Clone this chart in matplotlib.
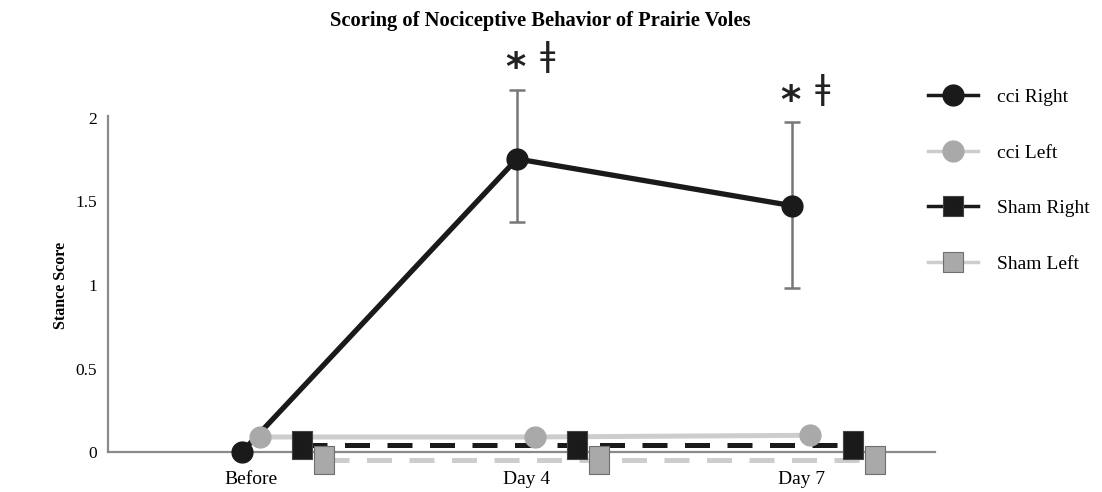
import matplotlib.pyplot as plt
from matplotlib.lines import Line2D
import numpy as np

# ---------------------------------------------------------------------
# Data
# ---------------------------------------------------------------------
days = ["Before", "Day 4", "Day 7"]

cci_right = [0.0, 1.755, 1.475]
cci_right_err_low = [0.0, 0.38, 0.49]
cci_right_err_high = [0.0, 0.415, 0.50]
cci_left = [0.09, 0.09, 0.10]
sham_right = [0.04, 0.04, 0.04]
sham_left = [-0.05, -0.05, -0.05]

sig_labels = ["", "*", "*"]
sig_labels2 = ["", "\u01c2", "\u01c2"]

# ---------------------------------------------------------------------
# Styling
# ---------------------------------------------------------------------
plt.rcParams["font.family"] = ["Liberation Serif", "DejaVu Serif"]

BLACK = "#1a1a1a"
DARKGRAY = "#777777"
MIDGRAY = "#a9a9a9"
LIGHTGRAY = "#cdcdcd"

rect = [(-0.75, -1), (0.75, -1), (0.75, 1), (-0.75, 1), (-0.75, -1)]

x = np.arange(len(days))
offsets = {"cci_right": 0.0, "cci_left": 0.065, "sham_right": 0.22, "sham_left": 0.30}

fig = plt.figure(figsize=(11.02, 4.92), dpi=100)
ax = fig.add_axes([0.098, 0.0134, 0.7505, 0.8486])

# spines first (moving a spine resets the tick labels)
for side in ["top", "right"]:
    ax.spines[side].set_visible(False)
ax.spines["bottom"].set_position(("data", 0))
ax.spines["left"].set_bounds(0, 2.01)
for side in ["bottom", "left"]:
    ax.spines[side].set_color("#8a8a8a")
    ax.spines[side].set_linewidth(1.6)
    ax.spines[side].set_zorder(1)

# Sham Left (gray dashed, gray squares)
ax.plot(x + offsets["sham_left"], sham_left, color=LIGHTGRAY, lw=3.6,
        dashes=(5, 3.5), zorder=2)
ax.plot(x + offsets["sham_left"], sham_left, ls="none", marker=rect, ms=20,
        mfc=MIDGRAY, mec="#6f6f6f", mew=0.8, zorder=6)

# Sham Right (black dashed, black squares)
ax.plot(x + offsets["sham_right"], sham_right, color=BLACK, lw=3.6,
        dashes=(5, 3.5), zorder=3)
ax.plot(x + offsets["sham_right"], sham_right, ls="none", marker=rect, ms=20,
        mfc=BLACK, mec="#444444", mew=0.8, zorder=5)

# cci Left (light gray solid, gray circles)
ax.plot(x + offsets["cci_left"], cci_left, color=LIGHTGRAY, lw=3.6, zorder=2.5)
ax.plot(x + offsets["cci_left"], cci_left, ls="none", marker="o", ms=15,
        mfc=MIDGRAY, mec=MIDGRAY, zorder=4.5)

# cci Right (black solid with error bars)
ax.errorbar(x + offsets["cci_right"], cci_right,
            yerr=[cci_right_err_low, cci_right_err_high],
            color=BLACK, lw=3.8, marker="o", ms=15, mfc=BLACK, mec=BLACK,
            ecolor=DARKGRAY, elinewidth=1.8, capsize=6, capthick=1.8, zorder=4)

# significance markers
for xi, yi, ei, s1, s2 in zip(x, cci_right, cci_right_err_high, sig_labels, sig_labels2):
    if not s1:
        continue
    ax.annotate(s1, xy=(xi + offsets["cci_right"], yi + ei), xytext=(-1, 1),
                textcoords="offset points", ha="center", va="bottom",
                fontsize=28, fontweight="bold", color="#222222",
                family=["DejaVu Sans"], annotation_clip=False)
    ax.annotate(s2, xy=(xi + offsets["cci_right"], yi + ei), xytext=(22, 12),
                textcoords="offset points", ha="center", va="bottom",
                fontsize=24, color="#222222", family=["DejaVu Sans"],
                annotation_clip=False)

# axes
ax.set_xlim(-0.487, 2.52)
ax.set_ylim(-0.2, 2.3)
ax.set_xticks(x + 0.034)
ax.set_xticklabels(days, fontsize=14)
ax.set_yticks([0, 0.5, 1, 1.5, 2])
ax.set_yticklabels(["0", "0.5", "1", "1.5", "2"], fontsize=12.5)
ax.tick_params(axis="both", length=0)
ax.tick_params(axis="x", pad=14)
ax.tick_params(axis="y", pad=8)

fig.text(0.055, 0.42, "Stance Score", rotation=90, ha="center", va="center",
         fontsize=11.5, fontweight="bold")
fig.text(0.49, 0.958, "Scoring of Nociceptive Behavior of Prairie Voles",
         ha="center", va="center", fontsize=14.8, fontweight="bold")

# legend
handles = [
    Line2D([], [], color=BLACK, lw=2.5, marker="o", ms=15, mfc=BLACK, mec=BLACK),
    Line2D([], [], color=LIGHTGRAY, lw=2.5, marker="o", ms=15, mfc=MIDGRAY, mec=MIDGRAY),
    Line2D([], [], color=BLACK, lw=2.5, marker="s", ms=15, mfc=BLACK, mec="#444444", mew=0.8),
    Line2D([], [], color=LIGHTGRAY, lw=2.5, marker="s", ms=15, mfc=MIDGRAY, mec="#6f6f6f", mew=0.8),
]
labels = ["cci Right", "cci Left", "Sham Right", "Sham Left"]
fig.legend(handles, labels, loc="upper left", bbox_to_anchor=(0.842, 0.82),
           frameon=False, fontsize=14, handlelength=2.6, handletextpad=0.95,
           labelspacing=1.95, borderaxespad=0, borderpad=0)

fig.savefig("out.png", dpi=100)
